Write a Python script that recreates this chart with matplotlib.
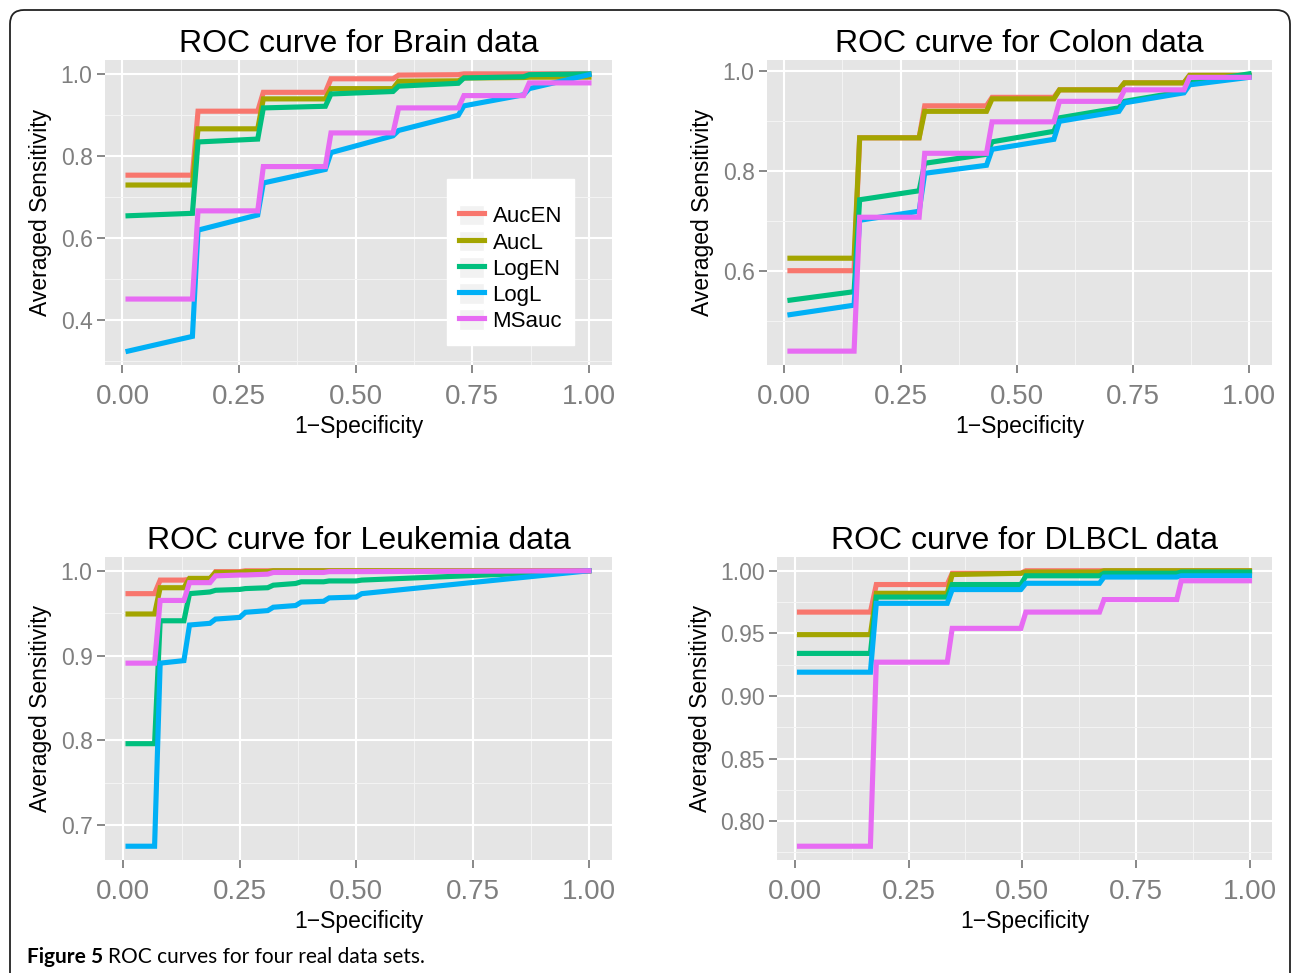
import matplotlib
matplotlib.use("Agg")
import matplotlib.pyplot as plt
from matplotlib.lines import Line2D
from matplotlib.patches import Patch, FancyBboxPatch
from matplotlib.legend_handler import HandlerTuple

plt.rcParams['font.family'] = ['Liberation Sans', 'DejaVu Sans']

methods = ["AucEN", "AucL", "LogEN", "LogL", "MSauc"]
colors = ["#F8766D", "#A3A500", "#00BF7D", "#00B0F6", "#E76BF3"]

# Brain data (all methods share the same FPR points)
brain_x = [0.012, 0.15, 0.162, 0.29, 0.302, 0.435, 0.447, 0.58, 0.592, 0.72, 0.732, 0.86, 0.872, 1.0]
brain_aucen = [.753, .753, .909, .909, .955, .955, .988, .988, .997, .998, 1.0, 1.0, 1.0, 1.0]
brain_aucl = [.729, .729, .866, .866, .939, .939, .964, .964, .982, .983, .990, .991, .992, .992]
brain_logen = [.654, .660, .834, .841, .917, .921, .951, .957, .970, .977, .990, .993, .998, 1.0]
brain_logl = [.324, .360, .619, .656, .734, .767, .808, .849, .862, .899, .922, .949, .964, .998]
brain_msauc = [.451, .451, .666, .666, .774, .774, .856, .856, .917, .917, .947, .947, .978, .978]

# Colon data
colon_x = [0.012, 0.15, 0.162, 0.29, 0.302, 0.435, 0.447, 0.58, 0.592, 0.72, 0.732, 0.86, 0.872, 1.0]
colon_aucen = [.600, .600, .866, .866, .930, .930, .947, .947, .962, .962, .976, .976, .991, .991]
colon_aucl = [.625, .625, .866, .866, .919, .919, .944, .944, .962, .962, .976, .976, .991, .991]
colon_logen = [.541, .558, .742, .760, .815, .833, .858, .879, .906, .926, .939, .959, .976, .994]
colon_logl = [.512, .531, .701, .719, .795, .811, .843, .863, .899, .919, .936, .956, .972, .987]
colon_msauc = [.439, .439, .707, .707, .835, .835, .898, .898, .939, .939, .962, .962, .987, .987]

# Leukemia data
leuk_x = [0.01, 0.067, 0.079, 0.13, 0.142, 0.186, 0.198, 0.25, 0.262, 0.31, 0.322, 0.37, 0.382, 0.43, 0.442, 0.50, 0.512, 1.0]
leuk_aucen = [.973, .973, .989, .989, .990, .990, .999, .999, 1, 1, 1, 1, 1, 1, 1, 1, 1, 1]
leuk_aucl = [.949, .949, .980, .980, .991, .991, .998, .998, .999, .999, 1, 1, 1, 1, 1, 1, 1, 1]
leuk_logen = [.796, .796, .941, .941, .973, .975, .977, .978, .979, .980, .983, .985, .987, .987, .988, .988, .989, 1.0]
leuk_logl = [.675, .675, .891, .894, .936, .938, .943, .945, .951, .953, .957, .959, .963, .964, .968, .969, .973, 1.0]
leuk_msauc = [.891, .891, .965, .965, .986, .986, .994, .995, .995, .996, .998, .998, .998, .998, .999, .999, .999, 1.0]

# DLBCL data
dlbcl_x = [0.01, 0.166, 0.179, 0.335, 0.346, 0.497, 0.508, 0.67, 0.68, 0.84, 0.85, 1.0]
dlbcl_aucen = [.967, .967, .989, .989, .998, .998, 1, 1, 1, 1, 1, 1]
dlbcl_aucl = [.949, .949, .982, .982, .997, .998, .999, .999, 1, 1, 1, 1]
dlbcl_logen = [.934, .934, .979, .979, .989, .989, .996, .996, .998, .998, .999, .999]
dlbcl_logl = [.919, .919, .974, .974, .985, .985, .990, .990, .995, .995, .996, .996]
dlbcl_msauc = [.780, .780, .927, .927, .954, .954, .967, .967, .977, .977, .992, .992]

x_ticks = [0.0, 0.25, 0.5, 0.75, 1.0]
x_minor = [0.125, 0.375, 0.625, 0.875]

W, H = 1293, 973
fig = plt.figure(figsize=(W / 100, H / 100), dpi=100)


def rect(x0, y0, x1, y1):
    # pixel box (top-left origin) -> figure fraction
    return [x0 / W, 1 - y1 / H, (x1 - x0) / W, (y1 - y0) / H]


def expand(vals, mult=0.05):
    lo, hi = min(vals), max(vals)
    d = (hi - lo) * mult
    return lo - d, hi + d


panels = [
    ("ROC curve for Brain data", brain_x,
     [brain_aucen, brain_aucl, brain_logen, brain_logl, brain_msauc],
     [0.4, 0.6, 0.8, 1.0], [0.3, 0.5, 0.7, 0.9], "{:.1f}", rect(105, 60, 612, 365)),
    ("ROC curve for Colon data", colon_x,
     [colon_aucen, colon_aucl, colon_logen, colon_logl, colon_msauc],
     [0.6, 0.8, 1.0], [0.5, 0.7, 0.9], "{:.1f}", rect(767, 60, 1272, 365)),
    ("ROC curve for Leukemia data", leuk_x,
     [leuk_aucen, leuk_aucl, leuk_logen, leuk_logl, leuk_msauc],
     [0.7, 0.8, 0.9, 1.0], [0.75, 0.85, 0.95], "{:.1f}", rect(105, 557, 612, 860)),
    ("ROC curve for DLBCL data", dlbcl_x,
     [dlbcl_aucen, dlbcl_aucl, dlbcl_logen, dlbcl_logl, dlbcl_msauc],
     [0.80, 0.85, 0.90, 0.95, 1.00], [0.775, 0.825, 0.875, 0.925, 0.975], "{:.2f}",
     rect(777, 557, 1272, 860)),
]

axes = []
for title, xs, series, yticks, yminor, fmt, r in panels:
    ax = fig.add_axes(r)
    axes.append(ax)
    ax.set_facecolor("#E5E5E5")
    for s in ax.spines.values():
        s.set_visible(False)

    for ys, c, m in zip(series, colors, methods):
        ax.plot(xs, ys, color=c, linewidth=3.7, label=m, solid_joinstyle="miter")

    ally = [v for ys in series for v in ys]
    ax.set_xlim(*expand(list(xs)))
    ax.set_ylim(*expand(ally))

    ax.set_xticks(x_ticks)
    ax.set_xticklabels(["{:.2f}".format(v) for v in x_ticks])
    ax.set_xticks(x_minor, minor=True)
    ax.set_yticks(yticks)
    ax.set_yticklabels([fmt.format(v) for v in yticks])
    ax.set_yticks(yminor, minor=True)

    ax.grid(which="major", color="white", linewidth=1.5)
    ax.grid(which="minor", color="#F4F4F4", linewidth=0.7)
    ax.set_axisbelow(True)

    ax.tick_params(axis="x", which="major", labelsize=20, colors="#7F7F7F",
                   length=6, width=1.3, pad=8)
    ax.tick_params(axis="y", which="major", labelsize=16.5, colors="#7F7F7F",
                   length=6, width=1.3, pad=3)
    ax.tick_params(which="minor", length=0)

    ax.set_title(title, fontsize=23, pad=6)
    ax.set_xlabel("1\u2212Specificity", fontsize=16.5, labelpad=3)
    ax.set_ylabel("Averaged Sensitivity", fontsize=16.5, labelpad=6)

# legend in the Brain panel
handles = [(Patch(facecolor="#F2F2F2", edgecolor="white"),
            Line2D([], [], color=c, linewidth=3.7)) for c in colors]
axes[0].legend(handles, methods, loc="upper left",
               bbox_to_anchor=(447 / W, 1 - 179 / H), bbox_transform=fig.transFigure,
               handler_map={tuple: HandlerTuple(ndivide=1)},
               fontsize=16, title=" ", title_fontsize=7,
               frameon=True, fancybox=False, facecolor="white", edgecolor="white",
               framealpha=1, handlelength=1.1, handleheight=1.05,
               labelspacing=0.15, borderpad=0.55, handletextpad=0.4, borderaxespad=0)

# rounded frame around the figure (inch units)
frame = FancyBboxPatch((0.10, -0.4), 12.80, 9.63 + 0.4,
                       boxstyle="round,pad=0,rounding_size=0.14",
                       transform=fig.dpi_scale_trans, facecolor="none",
                       edgecolor="#222222", linewidth=1.3)
fig.patches.append(frame)

# caption
t1 = fig.text(27 / W, 1 - 957 / H, "Figure 5", fontsize=15, fontweight="bold",
              family="Lato", va="center", ha="left")
fig.canvas.draw()
bb = t1.get_window_extent(fig.canvas.get_renderer())
fig.text((bb.x1 + 5) / W, 1 - 957 / H, "ROC curves for four real data sets.",
         fontsize=15, family="Lato", va="center", ha="left")

fig.savefig("out.png", dpi=100)
